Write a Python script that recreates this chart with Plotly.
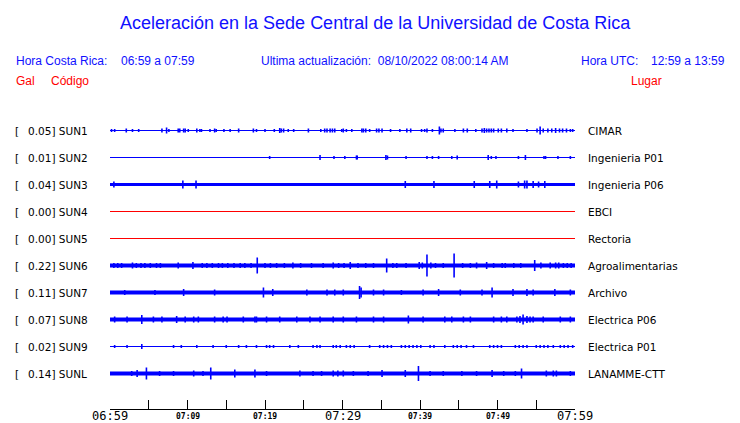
import plotly.graph_objects as go

# ---------------- data ----------------
codes = ["SUN1", "SUN2", "SUN3", "SUN4", "SUN5", "SUN6", "SUN7", "SUN8", "SUN9", "SUNL"]
gal = [0.05, 0.01, 0.04, 0.00, 0.00, 0.22, 0.11, 0.07, 0.02, 0.14]
places = ["CIMAR", "Ingenieria P01", "Ingenieria P06", "EBCI", "Rectoria",
          "Agroalimentarias", "Archivo", "Electrica P06", "Electrica P01", "LANAMME-CTT"]

tick_minutes = [0, 5, 10, 15, 20, 25, 30, 35, 40, 45, 50, 55, 60]
label_minutes = [0, 10, 20, 30, 40, 50, 60]
label_texts = ["06:59", "07:09", "07:19", "07:29", "07:39", "07:49", "07:59"]
label_major = [True, False, False, True, False, False, True]

# spike times (minutes after 06:59) and half amplitudes (trace units) per station
sun1_t = [0.2, 0.6, 2.1, 2.9, 3.7, 6.7, 7.3, 7.6, 8.8, 9.0, 9.5, 9.7, 10.1, 11.2, 11.6, 11.8, 12.9, 13.5,
          13.7, 14.7, 15.5, 16.6, 18.5, 18.9, 20.0, 21.2, 21.9, 22.1, 22.4, 23.0, 23.7, 25.6, 27.2, 27.7,
          28.0, 28.4, 28.7, 29.0, 29.9, 30.1, 30.5, 31.2, 32.5, 32.7, 33.0, 33.5, 34.4, 34.7, 35.1, 36.2,
          37.4, 38.3, 38.8, 40.2, 40.6, 40.9, 41.6, 42.5, 42.7, 43.0, 44.5, 45.6, 46.1, 47.2, 48.0, 48.3,
          48.6, 48.9, 49.2, 49.5, 50.1, 50.5, 51.2, 52.0, 53.8, 55.1, 55.5, 55.9, 56.5, 57.0, 57.5, 58.0,
          58.4, 58.9, 59.4, 59.7]
sun1_a = [1.5, 1.5, 2, 1.5, 1.5, 2, 3, 1.5, 2, 2, 2, 2, 1.5, 2, 1.5, 1.5, 1.5, 2,
          1.5, 1.5, 1.5, 2, 2, 1.5, 1.5, 1.5, 2.5, 2, 2, 1.5, 1.5, 2, 1.5, 2,
          2, 2, 2, 2, 1.5, 2, 1.5, 1.5, 2, 2, 2, 1.5, 2, 2, 2, 1.5,
          1.5, 2, 2, 1.5, 1.5, 2, 1.5, 4, 2, 2, 1.5, 2, 2, 1.5, 2, 2.5,
          2, 2, 2, 2, 2, 2, 2, 1.5, 1.5, 2, 4, 2, 2, 2, 2.5, 2,
          2, 2, 1.5, 1.5]
sun2_t = [20.6, 27.1, 28.9, 30.3, 31.8, 31.9, 35.6, 35.8, 38.2, 40.9, 41.6, 42.4, 44.1, 44.8, 48.8, 49.2,
          49.8, 52.7, 53.6, 56.0, 56.2, 57.8, 59.4]
sun2_a = [1.5, 2.5, 1.5, 1.5, 2, 2, 2.5, 2, 1.5, 1.5, 1.5, 1.5, 1.5, 2, 2.5, 1.5,
          1.5, 1.5, 2.5, 1.5, 1.5, 1.5, 1.5]
sun3_t = [0.5, 9.4, 11.1, 38.1, 41.8, 47.0, 49.0, 49.9, 52.7, 53.5, 53.8, 54.6, 55.3, 56.1]
sun3_a = [3, 4, 4, 3.5, 3.5, 3.5, 3.5, 4, 3, 4, 4, 3.5, 3, 3.5]
sun6_t = [0.5, 1.0, 1.5, 2.9, 3.4, 4.0, 4.5, 5.2, 6.0, 6.5, 8.8, 10.7, 11.9, 12.5, 13.2, 14.0, 14.5, 15.2,
          16.0, 16.8, 17.4, 18.2, 19.0, 20.0, 20.7, 21.5, 22.5, 23.6, 24.6, 26.0, 27.5, 28.8, 29.5, 30.2,
          31.0, 32.0, 33.0, 34.0, 35.7, 36.5, 37.0, 38.2, 39.9, 40.3, 40.9, 41.4, 42.0, 43.0, 44.4, 45.5,
          46.5, 47.3, 48.6, 49.5, 50.6, 51.0, 52.1, 53.0, 54.8, 55.6, 56.8, 57.5, 57.9, 58.5, 59.0, 59.5]
sun6_a = [2.5, 2.5, 2.5, 3, 2.5, 2.5, 2.5, 2.5, 2.5, 2.5, 3, 3.5, 2.5, 2.5, 2.5, 2.5, 2.5, 2.5,
          2.5, 2.5, 2.5, 2.5, 8, 2.5, 2.5, 2.5, 2.5, 3, 2.5, 2.5, 2.5, 3, 2.5, 2.5,
          3.5, 2.5, 2.5, 2.5, 7, 2.5, 2.5, 2.5, 3.5, 3, 11, 3, 2.5, 2.5, 12, 2.5,
          2.5, 3, 3.5, 2.5, 2.5, 2.5, 2.5, 2.5, 5.5, 3, 3, 3, 3, 2.5, 2.5, 2.5]
sun7_t = [1.9, 5.8, 9.5, 13.5, 19.8, 21.0, 25.4, 28.0, 29.0, 30.1, 32.2, 32.4, 34.0, 35.3, 37.6, 40.4,
          42.4, 45.2, 48.0, 49.3, 52.0, 53.8, 54.6, 57.4, 59.4]
sun7_a = [2.5, 2.5, 3.5, 3, 5, 3.5, 3, 3, 3, 3, 6.5, 5, 3, 3, 2.5, 3,
          3.5, 3, 3, 5, 3.5, 3.5, 3, 3.5, 3]
sun8_t = [0.6, 2.2, 4.1, 5.6, 6.7, 8.6, 9.7, 10.8, 11.4, 13.5, 14.6, 15.1, 17.2, 18.7, 18.9, 20.2, 21.9,
          24.1, 25.8, 27.1, 28.8, 30.1, 31.8, 34.0, 35.3, 38.5, 40.4, 43.2, 44.1, 45.6, 46.5, 49.5, 50.5,
          51.2, 52.5, 52.9, 53.3, 53.8, 54.2, 54.6, 55.9, 58.1, 59.4]
sun8_a = [3, 3, 4.5, 3, 3, 3.5, 3, 3, 3, 3, 3, 3, 3, 3, 3, 3, 3,
          3, 3, 3, 3, 3, 3, 3, 3, 4, 3, 3, 3, 3, 3, 3, 3,
          3, 3, 3.5, 5, 3.5, 3, 3, 3, 3, 3]
sun9_t = [0.6, 2.2, 4.1, 8.2, 9.2, 11.2, 13.3, 15.0, 16.6, 17.6, 18.9, 20.2, 20.6, 21.1, 23.2, 24.3, 26.2,
          26.7, 27.1, 28.8, 29.2, 29.7, 30.5, 31.0, 31.5, 33.5, 34.8, 35.3, 35.8, 36.3, 37.6, 38.1, 38.6,
          39.1, 39.6, 40.1, 41.3, 41.8, 43.2, 44.3, 44.8, 45.3, 46.0, 46.9, 49.0, 49.5, 50.0, 50.5, 52.3,
          52.8, 53.3, 53.8, 55.0, 55.5, 56.0, 56.5, 57.2, 58.1, 58.6, 59.1, 59.7]
sun9_a = [1.5, 1.5, 2.5, 1.5, 1.5, 1.5, 1.5, 1.5, 1.5, 1.5, 1.5, 1.5, 1.5, 1.5, 1.5, 1.5, 1.5,
          1.5, 1.5, 1.5, 1.5, 1.5, 1.5, 1.5, 1.5, 1.5, 1.5, 1.5, 1.5, 1.5, 1.5, 1.5, 1.5,
          1.5, 1.5, 1.5, 1.5, 1.5, 1.5, 1.5, 1.5, 1.5, 1.5, 1.5, 1.5, 1.5, 1.5, 1.5, 1.5,
          1.5, 1.5, 1.5, 1.5, 1.5, 1.5, 1.5, 1.5, 1.5, 1.5, 1.5, 1.5]
sunl_t = [2.8, 3.5, 4.7, 6.4, 8.2, 10.8, 12.0, 13.0, 16.1, 18.7, 20.2, 24.5, 26.2, 27.3, 28.8, 29.4, 30.1,
          31.4, 33.3, 35.1, 38.1, 39.8, 41.3, 43.0, 45.4, 47.3, 49.3, 50.8, 52.3, 53.1, 56.3, 57.2, 57.6, 59.4]
sunl_a = [2.5, 3.5, 6, 2.5, 2.5, 3, 2.5, 6, 4, 4, 2.5, 3, 2.5, 2.5, 3, 3, 3,
          2.5, 2.5, 3.5, 3.5, 7.5, 2.5, 2.5, 2.5, 2.5, 3.5, 2.5, 2.5, 5, 3, 3, 3, 2.5]

spike_times = [sun1_t, sun2_t, sun3_t, [], [], sun6_t, sun7_t, sun8_t, sun9_t, sunl_t]
spike_amps = [sun1_a, sun2_a, sun3_a, [], [], sun6_a, sun7_a, sun8_a, sun9_a, sunl_a]

# ---------------- styles ----------------
base_width = [1, 1, 3, 1, 1, 4, 4, 4, 1, 4]
trace_color = ["#0000ff", "#0000ff", "#0000ff", "#ff0000", "#ff0000",
               "#0000ff", "#0000ff", "#0000ff", "#0000ff", "#0000ff"]
ROW_PX = 27.0
BLUE = "#1010ff"
RED = "#ff0000"
HFONT = "Liberation Sans, Arial, sans-serif"
LFONT = "DejaVu Sans, sans-serif"

W, H = 740, 423
ML, MR, MT, MB = 110, 165, 116, 14
PW, PH = W - ML - MR, H - MT - MB

fig = go.Figure()

for i, code in enumerate(codes):
    fig.add_trace(go.Scatter(x=[0, 60], y=[i, i], mode="lines",
                             line=dict(color=trace_color[i], width=base_width[i]),
                             hoverinfo="skip", showlegend=False, cliponaxis=False))
    xs, ys = [], []
    for t, a in zip(spike_times[i], spike_amps[i]):
        xs += [t, t, None]
        ys += [i - a / ROW_PX, i + a / ROW_PX, None]
    if xs:
        fig.add_trace(go.Scatter(x=xs, y=ys, mode="lines",
                                 line=dict(color=trace_color[i], width=1.6),
                                 hoverinfo="skip", showlegend=False, cliponaxis=False))


def px_x(px):
    return (px - ML) / PW


def px_y(py):
    return (H - MB - py) / PH


ann = []


def text(t, px, py, size, color, font=HFONT, anchor="left"):
    ann.append(dict(text=t, x=px_x(px), y=px_y(py), xref="paper", yref="paper",
                    xanchor=anchor, yanchor="middle", showarrow=False,
                    font=dict(family=font, size=size, color=color)))


text("Aceleración en la Sede Central de la Universidad de Costa Rica", 375, 23, 18, BLUE, anchor="center")
text("Hora Costa Rica:", 14, 61, 12, BLUE)
text("06:59 a 07:59", 119, 61, 12, BLUE)
text("Ultima actualización:  08/10/2022 08:00:14 AM", 259, 61, 12, BLUE)
text("Hora UTC:", 579, 61, 12, BLUE)
text("12:59 a 13:59", 649, 61, 12, BLUE)
text("Gal", 14, 81, 12, RED)
text("Código", 49, 81, 12, RED)
text("Lugar", 629, 81, 12, RED)

for i, code in enumerate(codes):
    ann.append(dict(text="[", x=px_x(13), y=i, xref="paper", yref="y", xanchor="left",
                    yanchor="middle", showarrow=False,
                    font=dict(family=LFONT, size=10.5, color="black")))
    ann.append(dict(text=f"{gal[i]:.2f}] {code}", x=px_x(26), y=i, xref="paper", yref="y",
                    xanchor="left", yanchor="middle", showarrow=False,
                    font=dict(family=LFONT, size=10.5, color="black")))
    ann.append(dict(text=places[i], x=px_x(586), y=i, xref="paper", yref="y", xanchor="left",
                    yanchor="middle", showarrow=False,
                    font=dict(family=LFONT, size=10.5, color="black")))

for m, lab, major in zip(label_minutes, label_texts, label_major):
    ann.append(dict(text=lab, x=m, y=px_y(416), xref="x", yref="paper", xanchor="center",
                    yanchor="middle", showarrow=False,
                    font=dict(family="DejaVu Sans Mono, monospace",
                              size=12 if major else 8, color="black",
                              weight="normal" if major else "bold")))

# rows sit on pixel centres (130.5 + 27*i) so 1px lines are crisp
fig.update_layout(
    width=W, height=H,
    margin=dict(l=ML, r=MR, t=MT, b=MB, pad=0),
    paper_bgcolor="white", plot_bgcolor="white",
    showlegend=False,
    annotations=ann,
    xaxis=dict(range=[0, 60], tickvals=tick_minutes, showticklabels=False,
               ticks="inside", ticklen=9, tickcolor="black", tickwidth=1,
               showline=True, linecolor="black", linewidth=1,
               showgrid=False, zeroline=False, fixedrange=True),
    yaxis=dict(range=[9 + 35.5 / ROW_PX, -14.5 / ROW_PX], visible=False,
               showgrid=False, zeroline=False, fixedrange=True),
)

fig.write_html("out.html", config={"displayModeBar": False},
               post_script="document.body.style.margin='0';document.body.style.overflow='hidden';")
